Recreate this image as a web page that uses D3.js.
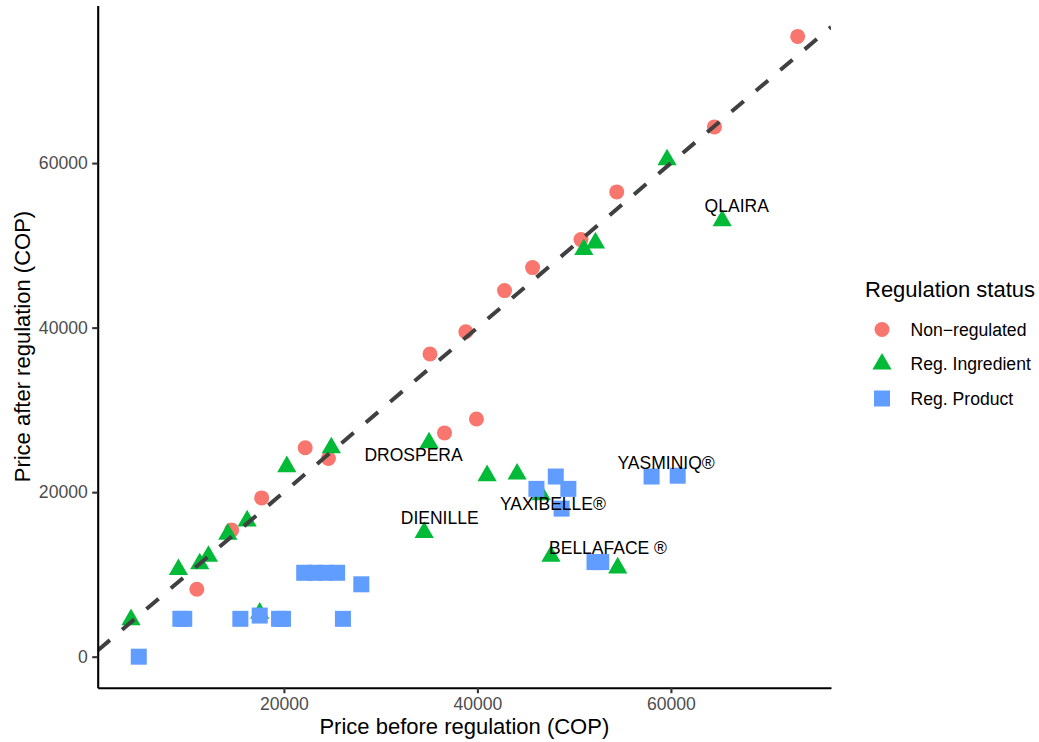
<!DOCTYPE html>
<html>
<head>
<meta charset="utf-8">
<script src="https://cdn.jsdelivr.net/npm/d3@7"></script>
<style>
    body { margin: 0; background: #fff; }
    text { font-family: "Liberation Sans", Arial, Helvetica, sans-serif; }
    .tick text { fill: #4d4d4d; font-size: 17.6px; }
    .tick line { stroke: #333; stroke-width: 2.1px; }
    .domain { stroke: #000; stroke-width: 2.1px; }
</style>
</head>
<body>
<svg id="chart" width="1039" height="742"></svg>
<script>
const nonRegBefore = [73100, 64500, 54400, 50700, 45700, 42800, 38800, 35100, 39900, 36600, 24600, 22200, 17700, 14600, 11000];
const nonRegAfter = [75400, 64400, 56500, 50700, 47300, 44500, 39500, 36800, 28900, 27200, 24100, 25400, 19300, 15400, 8200];

const ingBefore = [4200, 9100, 11300, 12200, 14200, 16200, 20300, 24900, 17500, 35000, 34500, 41000, 44100, 46600, 47600, 54500, 51000, 52200, 59600, 65300];
const ingAfter = [4500, 10600, 11300, 12200, 14900, 16500, 23100, 25400, 5300, 26000, 15100, 22000, 22200, 19700, 12200, 10800, 49500, 50300, 60400, 53000];

const prodBefore = [5000, 9300, 9700, 15500, 17500, 19500, 19900, 26100, 28000, 22100, 23200, 24300, 25500, 46100, 48100, 49400, 48700, 58000, 60700, 52100, 52800];
const prodAfter = [0, 4600, 4600, 4600, 5000, 4600, 4600, 4600, 8800, 10200, 10200, 10200, 10200, 20400, 21900, 20400, 18000, 21900, 22000, 11500, 11500];

const labelNames = ['DROSPERA', 'DIENILLE', 'YAXIBELLE®', 'BELLAFACE ®', 'YASMINIQ®', 'QLAIRA'];
const labelX = [33400, 36100, 47800, 53500, 59500, 66800];
const labelY = [24500, 16900, 18650, 13300, 23600, 54800];

const xTicks = [20000, 40000, 60000];
const yTicks = [0, 20000, 40000, 60000];

const groups = ['Non\u2212regulated', 'Reg. Ingredient', 'Reg. Product'];
const colours = ['#F8766D', '#00BA38', '#619CFF'];

const panel = { left: 97.7, right: 831, top: 5.4, bottom: 687.7 };

// ggplot style 5% expansion around the data
function expanded(values) {
    const [lo, hi] = d3.extent(values);
    const pad = (hi - lo) * 0.05;
    return [lo - pad, hi + pad];
}

const x = d3.scaleLinear()
    .domain(expanded([...nonRegBefore, ...ingBefore, ...prodBefore]))
    .range([panel.left, panel.right]);

const y = d3.scaleLinear()
    .domain(expanded([...nonRegAfter, ...ingAfter, ...prodAfter]))
    .range([panel.bottom, panel.top]);

const svg = d3.select('#chart');

svg.append('defs').append('clipPath')
    .attr('id', 'panel-clip')
    .append('rect')
    .attr('x', panel.left)
    .attr('y', panel.top)
    .attr('width', panel.right - panel.left)
    .attr('height', panel.bottom - panel.top);

const zip = (xs, ys) => xs.map((v, i) => ({ x: v, y: ys[i] }));

const triangle = d3.symbol(d3.symbolTriangle, 160);

function drawCircles(g, data) {
    g.selectAll('circle')
        .data(data)
        .join('circle')
        .attr('cx', d => x(d.x))
        .attr('cy', d => y(d.y))
        .attr('r', 7.5)
        .attr('fill', colours[0]);
}

function drawTriangles(g, data) {
    g.selectAll('path')
        .data(data)
        .join('path')
        .attr('d', triangle)
        .attr('transform', d => `translate(${x(d.x)}, ${y(d.y)})`)
        .attr('fill', colours[1]);
}

function drawSquares(g, data) {
    g.selectAll('rect')
        .data(data)
        .join('rect')
        .attr('x', d => x(d.x) - 8)
        .attr('y', d => y(d.y) - 8)
        .attr('width', 16)
        .attr('height', 16)
        .attr('fill', colours[2]);
}

svg.append('g').call(drawCircles, zip(nonRegBefore, nonRegAfter));
svg.append('g').call(drawTriangles, zip(ingBefore, ingAfter));
svg.append('g').call(drawSquares, zip(prodBefore, prodAfter));

// y = x reference line
const xd = x.domain();
svg.append('line')
    .attr('clip-path', 'url(#panel-clip)')
    .attr('x1', x(xd[0]))
    .attr('y1', y(xd[0]))
    .attr('x2', x(xd[1]))
    .attr('y2', y(xd[1]))
    .attr('stroke', '#404040')
    .attr('stroke-width', 4)
    .attr('stroke-dasharray', '16,16');

svg.append('g')
    .selectAll('text')
    .data(labelNames)
    .join('text')
    .attr('x', (d, i) => x(labelX[i]))
    .attr('y', (d, i) => y(labelY[i]))
    .attr('dy', '0.36em')
    .attr('text-anchor', 'middle')
    .attr('font-size', '17.5px')
    .attr('fill', '#000')
    .text(d => d);

svg.append('g')
    .attr('transform', `translate(0, ${panel.bottom})`)
    .call(d3.axisBottom(x).tickValues(xTicks).tickFormat(d3.format('d'))
        .tickSize(5.5).tickPadding(4.4).tickSizeOuter(0));

svg.append('g')
    .attr('transform', `translate(${panel.left}, 0)`)
    .call(d3.axisLeft(y).tickValues(yTicks).tickFormat(d3.format('d'))
        .tickSize(5.5).tickPadding(4.4).tickSizeOuter(0));

svg.append('text')
    .attr('x', (panel.left + panel.right) / 2)
    .attr('y', 734)
    .attr('text-anchor', 'middle')
    .attr('font-size', '22px')
    .text('Price before regulation (COP)');

svg.append('text')
    .attr('transform', `translate(29.5, ${(panel.top + panel.bottom) / 2}) rotate(-90)`)
    .attr('text-anchor', 'middle')
    .attr('font-size', '22px')
    .text('Price after regulation (COP)');

// legend
const legend = svg.append('g').attr('transform', 'translate(865, 0)');

legend.append('text')
    .attr('x', 0)
    .attr('y', 297)
    .attr('font-size', '22px')
    .text('Regulation status');

const keys = legend.selectAll('g.key')
    .data(groups)
    .join('g')
    .classed('key', true)
    .attr('transform', (d, i) => `translate(17, ${329.5 + i * 34.5})`);

keys.filter((d, i) => i === 0).append('circle')
    .attr('r', 7.5)
    .attr('fill', colours[0]);
keys.filter((d, i) => i === 1).append('path')
    .attr('d', triangle())
    .attr('fill', colours[1]);
keys.filter((d, i) => i === 2).append('rect')
    .attr('x', -8).attr('y', -8)
    .attr('width', 16).attr('height', 16)
    .attr('fill', colours[2]);

keys.append('text')
    .attr('x', 28.5)
    .attr('dy', '0.36em')
    .attr('font-size', '17.6px')
    .text(d => d);
</script>
</body>
</html>
